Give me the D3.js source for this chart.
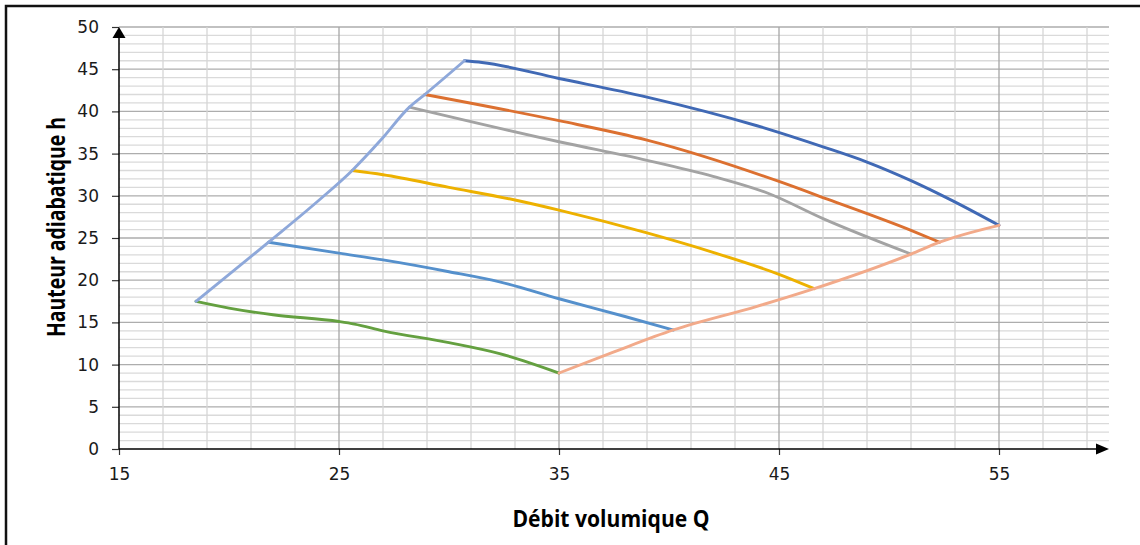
<!DOCTYPE html>
<html>
<head>
<meta charset="utf-8">
<script src="https://cdn.jsdelivr.net/npm/d3@7"></script>
<style>
  body { margin: 0; background: #fff; }
  svg { display: block; }
  .tick text { font-family: "DejaVu Sans", sans-serif; font-size: 17px; fill: #1a1a1a; }
  .title { font-family: "Open Sans", sans-serif; font-weight: bold; fill: #000; }
</style>
</head>
<body>
<svg id="chart" width="1140" height="545"></svg>
<script>
// tick labels
const xTicks = [15, 25, 35, 45, 55]
const yTicks = [0, 5, 10, 15, 20, 25, 30, 35, 40, 45, 50]

// curves: [Q, h]
const courbeBleue = [[30.7, 46], [31.5, 45.8], [35, 43.9], [39, 41.7], [44, 38.3], [47, 35.8], [49, 34.0], [51, 31.8], [52.9, 29.4], [55, 26.5]]
const courbeOrange = [[28.9, 42], [35, 38.9], [39, 36.6], [45, 31.7], [47.2, 29.6], [51, 25.9], [52.3, 24.5]]
const courbeGrise = [[28.2, 40.5], [35, 36.4], [39, 34.2], [42, 32.3], [44.5, 30.3], [47, 27.3], [51, 23.1]]
const courbeJaune = [[25.6, 33], [27, 32.5], [30, 31], [33, 29.5], [35, 28.3], [39, 25.6], [42, 23.3], [45, 20.7], [46.6, 19]]
const courbeBleueMoy = [[21.8, 24.5], [25, 23.2], [27, 22.4], [30, 21], [32.3, 19.8], [35, 17.8], [38, 15.7], [40.2, 14.1]]
const courbeVerte = [[18.5, 17.5], [20, 16.7], [22, 15.9], [25, 15.1], [25.7, 14.8], [27, 14], [30, 12.6], [32.3, 11.3], [35, 9]]
const limiteGauche = [[18.5, 17.5], [21.8, 24.5], [24.1, 29.5], [25.6, 33], [26.9, 36.6], [28.2, 40.5], [28.9, 42], [30.7, 46]]
const limiteDroite = [[35, 9], [37.5, 11.5], [40.2, 14.1], [44, 16.9], [46.6, 19], [51, 23.1], [52.3, 24.5], [55, 26.5]]

const series = [
  { data: courbeBleue, color: '#4069B5' },
  { data: courbeOrange, color: '#DC7030' },
  { data: courbeGrise, color: '#A3A3A3' },
  { data: courbeJaune, color: '#EDB100' },
  { data: courbeBleueMoy, color: '#5590CC' },
  { data: courbeVerte, color: '#64A040' },
  { data: limiteGauche, color: '#8EA8DA' },
  { data: limiteDroite, color: '#F2AA8A' }
]

const svg = d3.select('#chart')

// outer frame
svg.append('rect')
  .attr('x', 6).attr('y', 6)
  .attr('width', 1160).attr('height', 560)
  .attr('fill', 'none').attr('stroke', '#111').attr('stroke-width', 2.5)

const x = d3.scaleLinear().domain([15, 60]).range([119, 1109])
const y = d3.scaleLinear().domain([0, 50]).range([449, 27])

// grid
const grid = svg.append('g')
d3.range(1, 51).forEach(v => {
  grid.append('line')
    .attr('x1', x(15)).attr('x2', x(60))
    .attr('y1', y(v)).attr('y2', y(v))
    .attr('stroke', v % 5 === 0 ? '#adadad' : '#dadada')
    .attr('stroke-width', 1.3)
})
d3.range(17, 60, 2).forEach(v => {
  grid.append('line')
    .attr('x1', x(v)).attr('x2', x(v))
    .attr('y1', y(0)).attr('y2', y(50))
    .attr('stroke', (v - 15) % 10 === 0 ? '#a6a6a6' : '#d6d6d6')
    .attr('stroke-width', 1.3)
})

// axes
const yAxis = d3.axisLeft(y).tickValues(yTicks).tickSize(7).tickPadding(13)
const xAxis = d3.axisBottom(x).tickValues(xTicks).tickSize(6).tickPadding(13)

svg.append('g').attr('transform', 'translate(' + x(15) + ',0)').call(yAxis)
  .call(g => g.select('.domain').remove())
svg.append('g').attr('transform', 'translate(0,' + y(0) + ')').call(xAxis)
  .call(g => g.select('.domain').remove())

svg.selectAll('.tick line').attr('stroke', '#333').attr('stroke-width', 1.2)

// axis lines with arrow heads
svg.append('line')
  .attr('x1', x(15)).attr('x2', x(15))
  .attr('y1', y(0)).attr('y2', y(50) + 8)
  .attr('stroke', '#000').attr('stroke-width', 1.5)
svg.append('path')
  .attr('d', 'M' + (x(15) - 6.5) + ',' + (y(50) + 11) + 'L' + x(15) + ',' + y(50) + 'L' + (x(15) + 6.5) + ',' + (y(50) + 11) + 'Z')
  .attr('fill', '#000')
svg.append('line')
  .attr('x1', x(15)).attr('x2', x(60) - 8)
  .attr('y1', y(0)).attr('y2', y(0))
  .attr('stroke', '#000').attr('stroke-width', 1.5)
svg.append('path')
  .attr('d', 'M' + (x(60) - 13) + ',' + (y(0) - 5.5) + 'L' + x(60) + ',' + y(0) + 'L' + (x(60) - 13) + ',' + (y(0) + 5.5) + 'Z')
  .attr('fill', '#000')

// curves
const line = d3.line()
  .x(d => x(d[0]))
  .y(d => y(d[1]))
  .curve(d3.curveMonotoneX)

svg.append('g').selectAll('path')
  .data(series)
  .enter()
  .append('path')
  .attr('d', d => line(d.data))
  .attr('fill', 'none')
  .attr('stroke', d => d.color)
  .attr('stroke-width', 2.9)
  .attr('stroke-linecap', 'round')

// titles
svg.append('text')
  .attr('class', 'title')
  .attr('x', 611).attr('y', 527)
  .attr('text-anchor', 'middle')
  .style('font-size', '23px')
  .attr('textLength', 197)
  .attr('lengthAdjust', 'spacingAndGlyphs')
  .text('Débit volumique Q')

svg.append('text')
  .attr('class', 'title')
  .attr('transform', 'translate(65,227) rotate(-90)')
  .attr('text-anchor', 'middle')
  .style('font-size', '25px')
  .attr('textLength', 220)
  .attr('lengthAdjust', 'spacingAndGlyphs')
  .text('Hauteur adiabatique h')
</script>
</body>
</html>
